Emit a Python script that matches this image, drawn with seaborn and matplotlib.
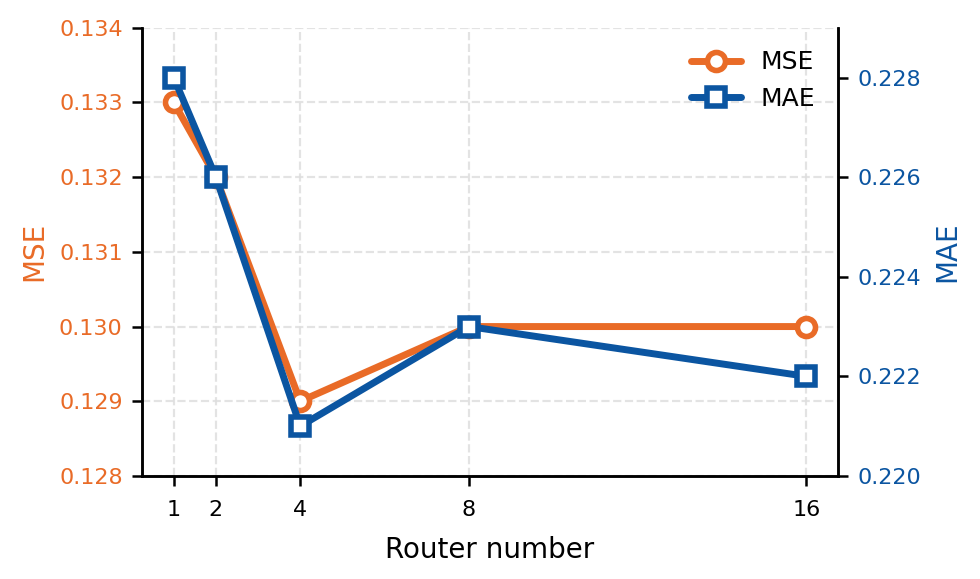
import matplotlib
matplotlib.use("Agg")
import matplotlib.pyplot as plt
import seaborn as sns
import pandas as pd

routers = [1, 2, 4, 8, 16]
mse = [0.133, 0.132, 0.129, 0.130, 0.130]
mae = [0.228, 0.226, 0.221, 0.223, 0.222]

ORANGE = "#E96B27"
BLUE = "#0B55A1"

sns.set_theme(style="ticks")
plt.rcParams['font.family'] = ['DejaVu Sans']
plt.rcParams['text.color'] = 'black'
plt.rcParams['axes.labelcolor'] = 'black'

df = pd.DataFrame({"Router": routers, "MSE": mse, "MAE": mae})

fig, ax = plt.subplots(figsize=(4.9, 2.895), dpi=200)
ax2 = ax.twinx()

sns.lineplot(data=df, x="Router", y="MSE", ax=ax, color=ORANGE, lw=2.5,
             marker="o", markersize=6.5, markerfacecolor="white",
             markeredgecolor=ORANGE, markeredgewidth=2, label="MSE", legend=False)
sns.lineplot(data=df, x="Router", y="MAE", ax=ax2, color=BLUE, lw=2.5,
             marker="s", markersize=6.5, markerfacecolor="white",
             markeredgecolor=BLUE, markeredgewidth=2, label="MAE", legend=False)

ax.set_ylim(0.128, 0.134)
ax.set_yticks([0.128, 0.129, 0.130, 0.131, 0.132, 0.133, 0.134])
ax.set_yticklabels([f"{v:.3f}" for v in [0.128, 0.129, 0.130, 0.131, 0.132, 0.133, 0.134]])
ax2.set_ylim(0.220, 0.229)
ax2.set_yticks([0.220, 0.222, 0.224, 0.226, 0.228])
ax2.set_yticklabels([f"{v:.3f}" for v in [0.220, 0.222, 0.224, 0.226, 0.228]])
ax.set_xticks(routers)
ax.set_xticklabels([str(r) for r in routers])

ax.set_ylabel("MSE", color=ORANGE, fontsize=10, labelpad=4)
ax2.set_ylabel("MAE", color=BLUE, fontsize=10, labelpad=4.5)
for a in (ax, ax2):
    for s in a.spines.values():
        s.set_color("black")
        s.set_linewidth(0.9)
    a.spines["top"].set_visible(False)
    a.tick_params(color="black", length=3.5, width=0.9, pad=3.5)
ax.tick_params(axis="y", labelcolor=ORANGE, labelsize=8)
ax.tick_params(axis="x", labelsize=8, labelcolor="black", pad=5)
ax2.tick_params(axis="y", labelcolor=BLUE, labelsize=8)
ax.set_xlabel("Router number", fontsize=10, color="black", labelpad=6)

ax.grid(True, linestyle="--", color="#DDDDDD", linewidth=0.8, alpha=0.8)
ax.set_axisbelow(True)

h1, l1 = ax.get_legend_handles_labels()
h2, l2 = ax2.get_legend_handles_labels()
leg = ax2.legend(h1 + h2, l1 + l2, loc="upper right", frameon=False, fontsize=9)
for t in leg.get_texts():
    t.set_color("black")

fig.subplots_adjust(left=0.145, right=0.855, top=0.952, bottom=0.178)
fig.savefig("out.png", dpi=200)
